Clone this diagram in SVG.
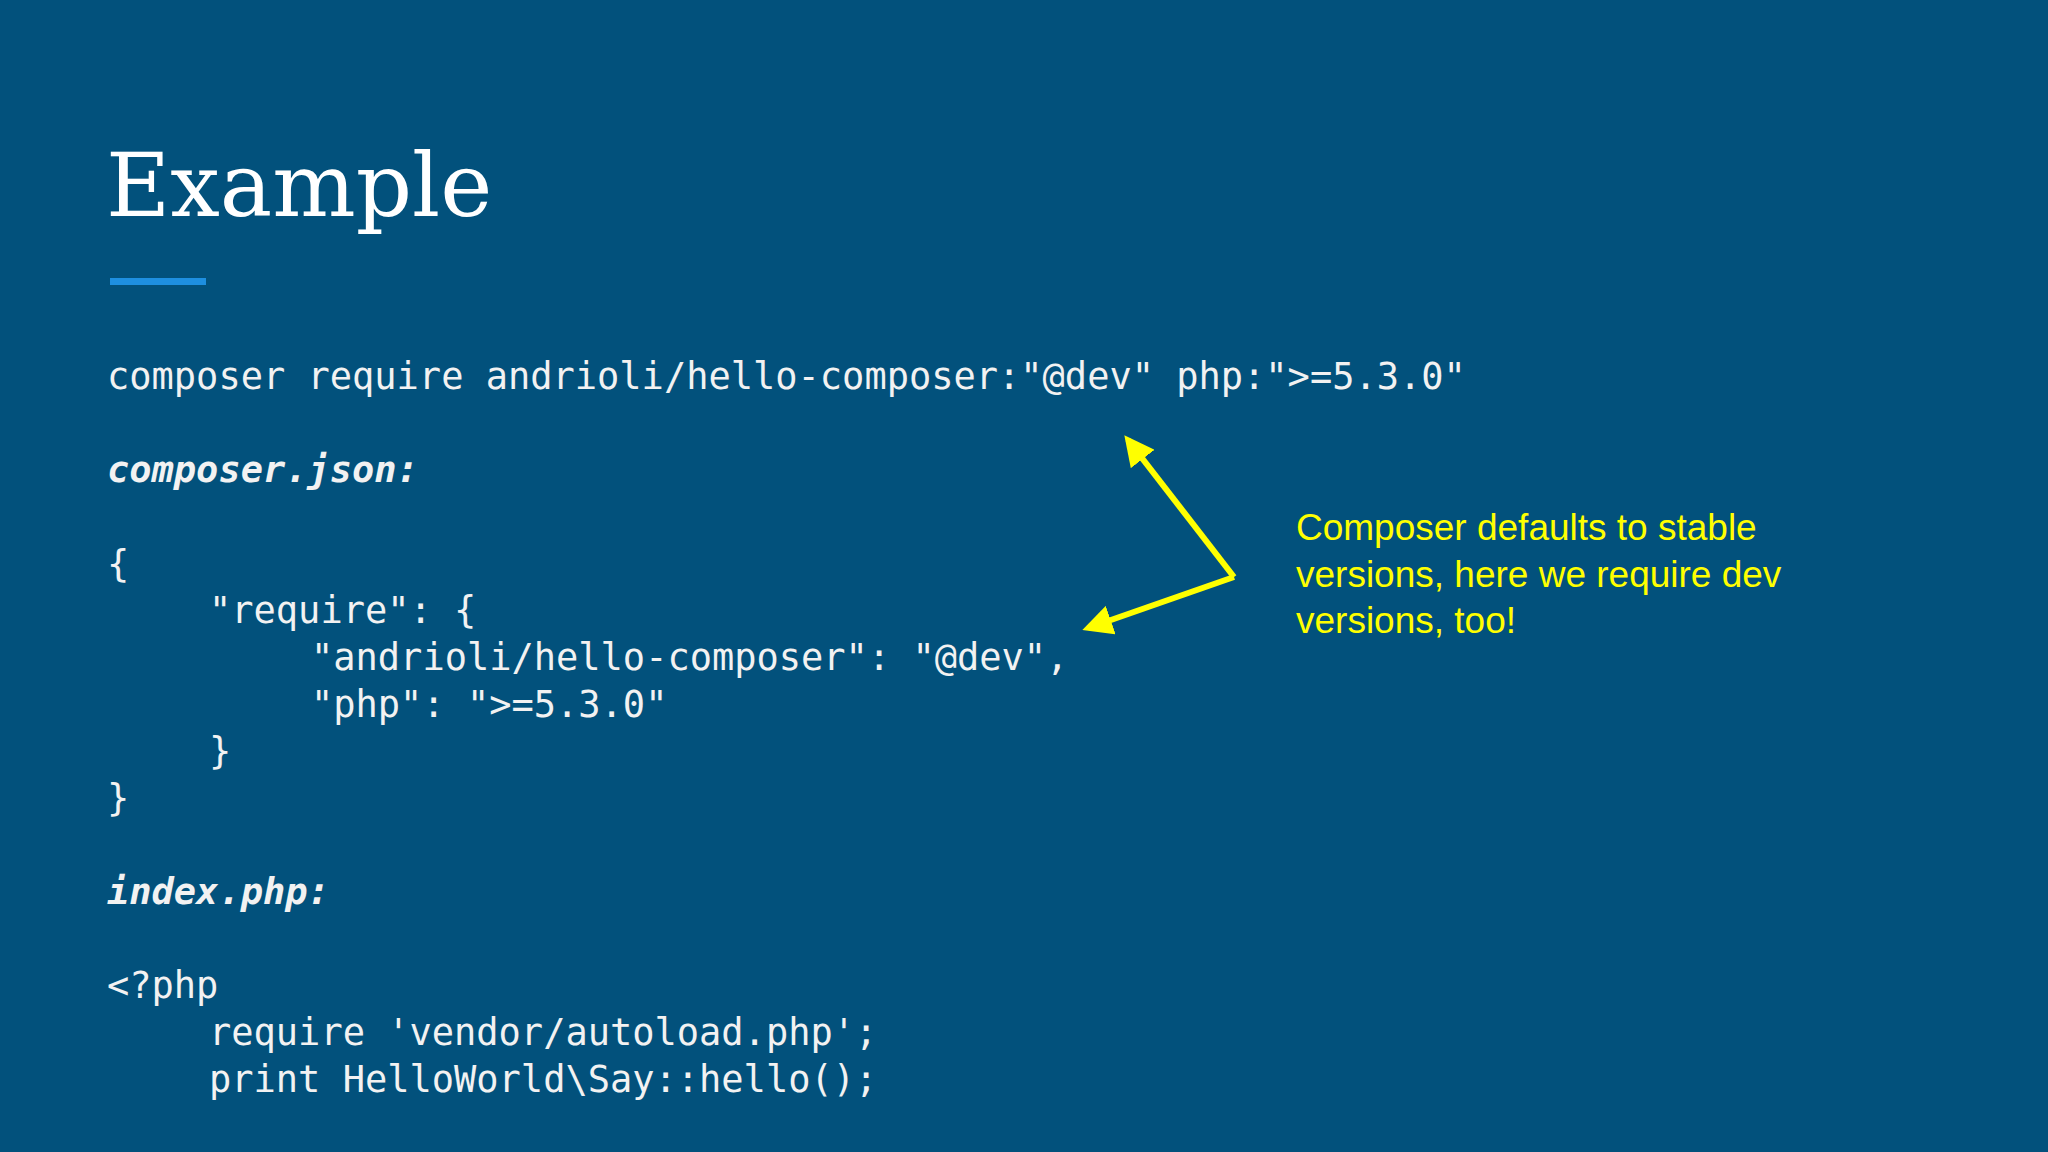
<svg xmlns="http://www.w3.org/2000/svg" width="2048" height="1152" viewBox="0 0 2048 1152">
<style>
.c{font-family:"DejaVu Sans Mono","Liberation Mono",monospace;font-size:37px;fill:#f2f2f2}
.b{font-weight:bold;font-style:italic}
.y{font-family:"Liberation Sans",Arial,sans-serif;font-size:37px;fill:#ffff00}
</style>
<defs><marker id="ah" markerWidth="5" markerHeight="5" refX="4" refY="2.5" orient="auto" markerUnits="strokeWidth"><path d="M0,0 L5,2.5 L0,5 z" fill="#ffff00"/></marker></defs>
<rect width="2048" height="1152" fill="#02517c"/>
<text x="106" y="216" font-family="DejaVu Serif,serif" font-size="88" fill="#ffffff">Example</text>
<rect x="110" y="278" width="96" height="7" fill="#1e8fe0"/>
<g id="code">
<text class="c" x="107" y="389">composer require andrioli/hello-composer:"@dev" php:"&gt;=5.3.0"</text>
<text class="c b" x="107" y="482">composer.json:</text>
<text class="c" x="107" y="577">{</text>
<text class="c" x="209" y="623">"require": {</text>
<text class="c" x="311" y="670">"andrioli/hello-composer": "@dev",</text>
<text class="c" x="311" y="717">"php": "&gt;=5.3.0"</text>
<text class="c" x="209" y="764">}</text>
<text class="c" x="107" y="811">}</text>
<text class="c b" x="107" y="904">index.php:</text>
<text class="c" x="107" y="998">&lt;?php</text>
<text class="c" x="209" y="1045">require 'vendor/autoload.php';</text>
<text class="c" x="209" y="1092">print HelloWorld\Say::hello();</text>
</g>
<g id="connectors" stroke="#ffff00" stroke-width="6" fill="none">
<line x1="1234" y1="577" x2="1128" y2="440" marker-end="url(#ah)"/>
<line x1="1234" y1="577" x2="1088" y2="628" marker-end="url(#ah)"/>
</g>
<g id="note">
<text class="y" x="1296" y="540">Composer defaults to stable</text>
<text class="y" x="1296" y="587">versions, here we require dev</text>
<text class="y" x="1296" y="633">versions, too!</text>
</g>
</svg>
